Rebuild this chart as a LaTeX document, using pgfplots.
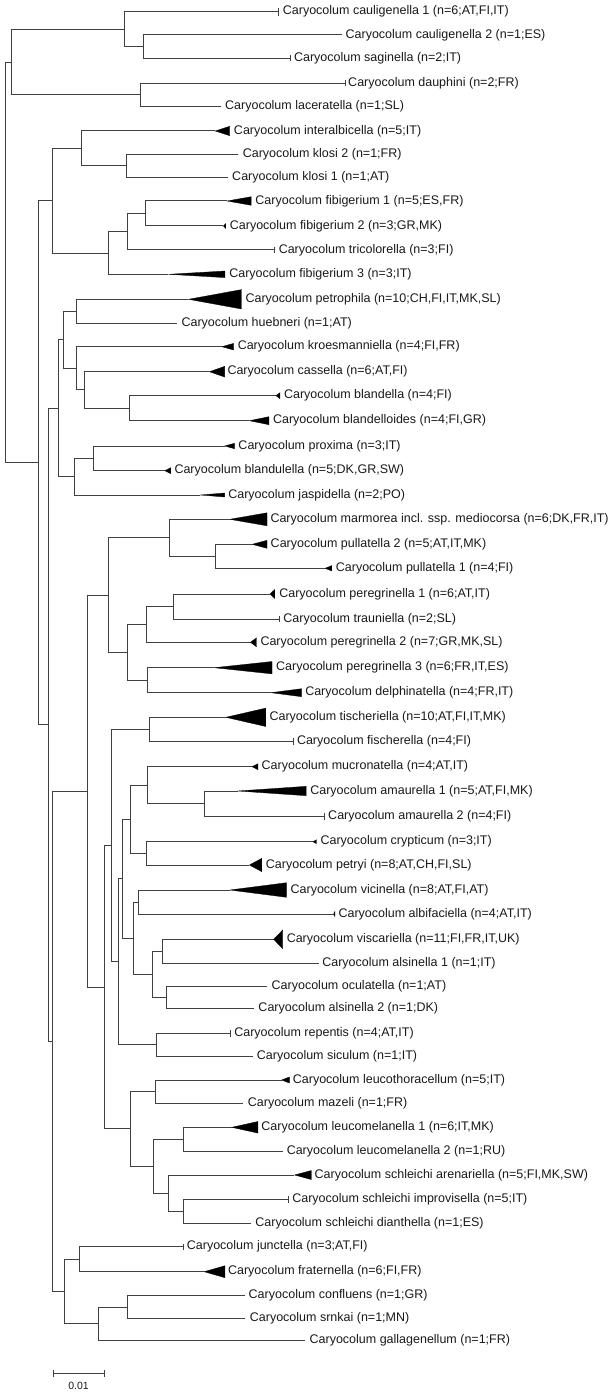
\documentclass[border=0pt]{standalone}
\usepackage{fontspec}
\setmainfont{Liberation Sans}
\usepackage{pgfplots}
\pgfplotsset{compat=1.18}
\tikzset{
  lab/.style={anchor=west, inner sep=0pt, text=black!90, font=\fontsize{12.5bp}{14bp}\selectfont},
  br/.style={black!75, line width=1bp},
  tk/.style={black!75, line width=1bp},
  tri/.style={fill=black, draw=black, line width=0.3bp},
}
\begin{document}
\begin{tikzpicture}
\begin{axis}[
  scale only axis, width=616bp, height=1394bp,
  xmin=0, xmax=523, ymin=0, ymax=1394, y dir=reverse,
  hide axis, clip=false,
]
% ---- branches (one polyline per internal node) ----
\addplot[br] coordinates {(10,62.09) (5,62.09) (5,462.75) (32.3,462.75)};
\addplot[br] coordinates {(106,29.18) (10,29.18) (10,95) (119,95)};
\addplot[br] coordinates {(236.7,11.7) (106,11.7) (106,46.65) (122,46.65)};
\addplot[br] coordinates {(290,35) (122,35) (122,58.3) (246.7,58.3)};
\addplot[br] coordinates {(293,83.3) (119,83.3) (119,106.7) (187.3,106.7)};
\addplot[br] coordinates {(44.3,200.7) (32.3,200.7) (32.3,724.8) (41,724.8)};
\addplot[br] coordinates {(69,148.4) (44.3,148.4) (44.3,253.03) (91.7,253.03)};
\addplot[br] coordinates {(182.7,131) (69,131) (69,165.8) (107.3,165.8)};
\addplot[br] coordinates {(202.3,154.3) (107.3,154.3) (107.3,177.3) (193.3,177.3)};
\addplot[br] coordinates {(108.3,231.75) (91.7,231.75) (91.7,274.3) (143,274.3)};
\addplot[br] coordinates {(123.3,213.5) (108.3,213.5) (108.3,250) (233.3,250)};
\addplot[br] coordinates {(192.7,201) (123.3,201) (123.3,226) (189.7,226)};
\addplot[br] coordinates {(49.3,408.25) (41,408.25) (41,1041.3) (44.3,1041.3)};
\addplot[br] coordinates {(54.3,339.8) (49.3,339.8) (49.3,476.7) (63.3,476.7)};
\addplot[br] coordinates {(65,311.3) (54.3,311.3) (54.3,368.3) (65,368.3)};
\addplot[br] coordinates {(160,299.3) (65,299.3) (65,323.3) (150.7,323.3)};
\addplot[br] coordinates {(188.3,346.7) (65,346.7) (65,389.95) (71.7,389.95)};
\addplot[br] coordinates {(177.7,371.7) (71.7,371.7) (71.7,408.2) (110,408.2)};
\addplot[br] coordinates {(234.3,395.7) (110,395.7) (110,420.7) (211.7,420.7)};
\addplot[br] coordinates {(79,458.35) (63.3,458.35) (63.3,495) (170,495)};
\addplot[br] coordinates {(190.7,446) (79,446) (79,470.7) (140,470.7)};
\addplot[br] coordinates {(74,791.15) (44.3,791.15) (44.3,1291.5) (55,1291.5)};
\addplot[br] coordinates {(91.7,595.05) (74,595.05) (74,987.25) (88.3,987.25)};
\addplot[br] coordinates {(144.3,537.8) (91.7,537.8) (91.7,652.3) (108.3,652.3)};
\addplot[br] coordinates {(195,519.3) (144.3,519.3) (144.3,556.3) (182.7,556.3)};
\addplot[br] coordinates {(214,544.3) (182.7,544.3) (182.7,568.3) (276,568.3)};
\addplot[br] coordinates {(124,624.4) (108.3,624.4) (108.3,680.2) (125,680.2)};
\addplot[br] coordinates {(147.3,606.5) (124,606.5) (124,642.3) (212.7,642.3)};
\addplot[br] coordinates {(229.3,594) (147.3,594) (147.3,619) (237.5,619)};
\addplot[br] coordinates {(181.7,667.7) (125,667.7) (125,692.7) (230,692.7)};
\addplot[br] coordinates {(95,845.6) (88.3,845.6) (88.3,1128.9) (111,1128.9)};
\addplot[br] coordinates {(126.7,729.5) (95,729.5) (95,961.65) (100.7,961.65)};
\addplot[br] coordinates {(191.7,717.3) (126.7,717.3) (126.7,741.7) (249,741.7)};
\addplot[br] coordinates {(104.3,878.65) (100.7,878.65) (100.7,1044.65) (132.7,1044.65)};
\addplot[br] coordinates {(111,819.2) (104.3,819.2) (104.3,938.1) (113.3,938.1)};
\addplot[br] coordinates {(125,785.1) (111,785.1) (111,853.35) (124.3,853.35)};
\addplot[br] coordinates {(214,766.7) (125,766.7) (125,803.5) (173.3,803.5)};
\addplot[br] coordinates {(201.7,791) (173.3,791) (173.3,816) (275.7,816)};
\addplot[br] coordinates {(265.7,841.7) (124.3,841.7) (124.3,865) (211.7,865)};
\addplot[br] coordinates {(117.7,902) (113.3,902) (113.3,974.2) (129.3,974.2)};
\addplot[br] coordinates {(195,890) (117.7,890) (117.7,914) (283.3,914)};
\addplot[br] coordinates {(138.3,951.3) (129.3,951.3) (129.3,997.15) (141,997.15)};
\addplot[br] coordinates {(232.3,939.3) (138.3,939.3) (138.3,963.3) (270.7,963.3)};
\addplot[br] coordinates {(226.7,986) (141,986) (141,1008.3) (216,1008.3)};
\addplot[br] coordinates {(196,1033.3) (132.7,1033.3) (132.7,1056) (215,1056)};
\addplot[br] coordinates {(132.3,1091.65) (111,1091.65) (111,1166.1) (130,1166.1)};
\addplot[br] coordinates {(239,1080) (132.3,1080) (132.3,1103.3) (206.7,1103.3)};
\addplot[br] coordinates {(155.7,1139.15) (130,1139.15) (130,1193.1) (143.3,1193.1)};
\addplot[br] coordinates {(196.7,1127.3) (155.7,1127.3) (155.7,1151) (240,1151)};
\addplot[br] coordinates {(250,1175) (143.3,1175) (143.3,1211.15) (155.7,1211.15)};
\addplot[br] coordinates {(245,1199) (155.7,1199) (155.7,1223.3) (213.3,1223.3)};
\addplot[br] coordinates {(67.3,1259.2) (55,1259.2) (55,1323.85) (83.3,1323.85)};
\addplot[br] coordinates {(155.7,1246.7) (67.3,1246.7) (67.3,1271.7) (173.3,1271.7)};
\addplot[br] coordinates {(108.3,1307) (83.3,1307) (83.3,1340.7) (259.3,1340.7)};
\addplot[br] coordinates {(207.7,1295.7) (108.3,1295.7) (108.3,1318.3) (208.3,1318.3)};
% ---- collapsed clades with zero depth (ticks) ----
\addplot[tk] coordinates {(236.7,7.7) (236.7,15.7)};
\addplot[tk] coordinates {(246.7,55.3) (246.7,61.3)};
\addplot[tk] coordinates {(293,80.3) (293,86.3)};
\addplot[tk] coordinates {(233.3,247) (233.3,253)};
\addplot[tk] coordinates {(237.5,616) (237.5,622)};
\addplot[tk] coordinates {(249,738.2) (249,745.2)};
\addplot[tk] coordinates {(275.7,812.5) (275.7,819.5)};
\addplot[tk] coordinates {(196,1029.8) (196,1036.8)};
\addplot[tk] coordinates {(245,1195.5) (245,1202.5)};
\addplot[tk] coordinates {(155.7,1243.7) (155.7,1249.7)};
% ---- collapsed clades (triangles) ----
\addplot[tri] coordinates {(182.7,131) (195,126.3) (195,135.7) (182.7,131)};
\addplot[tri] coordinates {(192.7,201) (213.3,196.7) (213.3,205.3) (192.7,201)};
\addplot[tri] coordinates {(189.7,226) (191.7,223.5) (191.7,228.5) (189.7,226)};
\addplot[tri] coordinates {(143,274.3) (191,271) (191,277.6) (143,274.3)};
\addplot[tri] coordinates {(160,299.3) (205,289.6) (205,309) (160,299.3)};
\addplot[tri] coordinates {(188.3,346.7) (198.3,343.4) (198.3,350) (188.3,346.7)};
\addplot[tri] coordinates {(177.7,371.7) (190.7,366.4) (190.7,377) (177.7,371.7)};
\addplot[tri] coordinates {(234.3,395.7) (237.7,392.7) (237.7,398.7) (234.3,395.7)};
\addplot[tri] coordinates {(211.7,420.7) (228.3,416.7) (228.3,424.7) (211.7,420.7)};
\addplot[tri] coordinates {(190.7,446) (199,443.3) (199,448.7) (190.7,446)};
\addplot[tri] coordinates {(140,470.7) (145,467.7) (145,473.7) (140,470.7)};
\addplot[tri] coordinates {(170,495) (190.7,493) (190.7,497) (170,495)};
\addplot[tri] coordinates {(195,519.3) (226.7,512.8) (226.7,525.8) (195,519.3)};
\addplot[tri] coordinates {(214,544.3) (226.7,540.3) (226.7,548.3) (214,544.3)};
\addplot[tri] coordinates {(276,568.3) (281.7,565.6) (281.7,571) (276,568.3)};
\addplot[tri] coordinates {(229.3,594) (233.3,589.5) (233.3,598.5) (229.3,594)};
\addplot[tri] coordinates {(212.7,642.3) (217.7,637.8) (217.7,646.8) (212.7,642.3)};
\addplot[tri] coordinates {(181.7,667.7) (231,661.5) (231,673.9) (181.7,667.7)};
\addplot[tri] coordinates {(230,692.7) (256,688.7) (256,696.7) (230,692.7)};
\addplot[tri] coordinates {(191.7,717.3) (225.7,708.1) (225.7,726.5) (191.7,717.3)};
\addplot[tri] coordinates {(214,766.7) (219,763.7) (219,769.7) (214,766.7)};
\addplot[tri] coordinates {(201.7,791) (260,786.3) (260,795.7) (201.7,791)};
\addplot[tri] coordinates {(265.7,841.7) (268.7,839.7) (268.7,843.7) (265.7,841.7)};
\addplot[tri] coordinates {(211.7,865) (222.3,858.3) (222.3,871.7) (211.7,865)};
\addplot[tri] coordinates {(195,890) (243.3,882.7) (243.3,897.3) (195,890)};
\addplot[tri] coordinates {(283.3,914) (284.3,911.5) (284.3,916.5) (283.3,914)};
\addplot[tri] coordinates {(232.3,939.3) (240,930) (240,948.6) (232.3,939.3)};
\addplot[tri] coordinates {(239,1080) (245.7,1077) (245.7,1083) (239,1080)};
\addplot[tri] coordinates {(196.7,1127.3) (219,1121.5) (219,1133.1) (196.7,1127.3)};
\addplot[tri] coordinates {(250,1175) (264.3,1170.5) (264.3,1179.5) (250,1175)};
\addplot[tri] coordinates {(173.3,1271.7) (191,1265.7) (191,1277.7) (173.3,1271.7)};
% ---- scale bar ----
\addplot[br] coordinates {(45,1370) (45,1376.6)};
\addplot[br] coordinates {(45,1373.3) (88.3,1373.3)};
\addplot[br] coordinates {(88.3,1370) (88.3,1376.6)};
\node[anchor=center, inner sep=0pt, text=black!90, font=\fontsize{10.5bp}{12bp}\selectfont] at (axis cs:66.7,1385.5) {0.01};
% ---- tip labels ----
\node[lab] at (axis cs:240,11.7) {Caryocolum cauligenella 1 (n=6;AT,FI,IT)};
\node[lab] at (axis cs:293.3,35) {Caryocolum cauligenella 2 (n=1;ES)};
\node[lab] at (axis cs:249.5,58.3) {Caryocolum saginella (n=2;IT)};
\node[lab] at (axis cs:295.5,83.3) {Caryocolum dauphini (n=2;FR)};
\node[lab] at (axis cs:191,106.7) {Caryocolum laceratella (n=1;SL)};
\node[lab] at (axis cs:198.5,131) {Caryocolum interalbicella (n=5;IT)};
\node[lab] at (axis cs:206,154.3) {Caryocolum klosi 2 (n=1;FR)};
\node[lab] at (axis cs:197,177.3) {Caryocolum klosi 1 (n=1;AT)};
\node[lab] at (axis cs:216.7,201) {Caryocolum fibigerium 1 (n=5;ES,FR)};
\node[lab] at (axis cs:195,226) {Caryocolum fibigerium 2 (n=3;GR,MK)};
\node[lab] at (axis cs:236.5,250) {Caryocolum tricolorella (n=3;FI)};
\node[lab] at (axis cs:194.5,274.3) {Caryocolum fibigerium 3 (n=3;IT)};
\node[lab] at (axis cs:208.3,299.3) {Caryocolum petrophila (n=10;CH,FI,IT,MK,SL)};
\node[lab] at (axis cs:154,323.3) {Caryocolum huebneri (n=1;AT)};
\node[lab] at (axis cs:201.7,346.7) {Caryocolum kroesmanniella (n=4;FI,FR)};
\node[lab] at (axis cs:193,371.7) {Caryocolum cassella (n=6;AT,FI)};
\node[lab] at (axis cs:241,395.7) {Caryocolum blandella (n=4;FI)};
\node[lab] at (axis cs:231.7,420.7) {Caryocolum blandelloides (n=4;FI,GR)};
\node[lab] at (axis cs:202.3,446) {Caryocolum proxima (n=3;IT)};
\node[lab] at (axis cs:148,470.7) {Caryocolum blandulella (n=5;DK,GR,SW)};
\node[lab] at (axis cs:193.7,495) {Caryocolum jaspidella (n=2;PO)};
\node[lab] at (axis cs:229.5,519.3) {Caryocolum marmorea incl. ssp. mediocorsa (n=6;DK,FR,IT)};
\node[lab] at (axis cs:229.7,544.3) {Caryocolum pullatella 2 (n=5;AT,IT,MK)};
\node[lab] at (axis cs:285,568.3) {Caryocolum pullatella 1 (n=4;FI)};
\node[lab] at (axis cs:237,594) {Caryocolum peregrinella 1 (n=6;AT,IT)};
\node[lab] at (axis cs:240.5,619) {Caryocolum trauniella (n=2;SL)};
\node[lab] at (axis cs:221,642.3) {Caryocolum peregrinella 2 (n=7;GR,MK,SL)};
\node[lab] at (axis cs:234.3,667.7) {Caryocolum peregrinella 3 (n=6;FR,IT,ES)};
\node[lab] at (axis cs:259,692.7) {Caryocolum delphinatella (n=4;FR,IT)};
\node[lab] at (axis cs:228.7,717.3) {Caryocolum tischeriella (n=10;AT,FI,IT,MK)};
\node[lab] at (axis cs:252,741.7) {Caryocolum fischerella (n=4;FI)};
\node[lab] at (axis cs:222,766.7) {Caryocolum mucronatella (n=4;AT,IT)};
\node[lab] at (axis cs:263.3,791) {Caryocolum amaurella 1 (n=5;AT,FI,MK)};
\node[lab] at (axis cs:278.5,816) {Caryocolum amaurella 2 (n=4;FI)};
\node[lab] at (axis cs:272,841.7) {Caryocolum crypticum (n=3;IT)};
\node[lab] at (axis cs:225.6,865) {Caryocolum petryi (n=8;AT,CH,FI,SL)};
\node[lab] at (axis cs:246.6,890) {Caryocolum vicinella (n=8;AT,FI,AT)};
\node[lab] at (axis cs:287.3,914) {Caryocolum albifaciella (n=4;AT,IT)};
\node[lab] at (axis cs:243.3,939.3) {Caryocolum viscariella (n=11;FI,FR,IT,UK)};
\node[lab] at (axis cs:273.5,963.3) {Caryocolum alsinella 1 (n=1;IT)};
\node[lab] at (axis cs:230.5,986) {Caryocolum oculatella (n=1;AT)};
\node[lab] at (axis cs:219.3,1008.3) {Caryocolum alsinella 2 (n=1;DK)};
\node[lab] at (axis cs:198.8,1033.3) {Caryocolum repentis (n=4;AT,IT)};
\node[lab] at (axis cs:218,1056) {Caryocolum siculum (n=1;IT)};
\node[lab] at (axis cs:248.5,1080) {Caryocolum leucothoracellum (n=5;IT)};
\node[lab] at (axis cs:210.3,1103.3) {Caryocolum mazeli (n=1;FR)};
\node[lab] at (axis cs:221.8,1127.3) {Caryocolum leucomelanella 1 (n=6;IT,MK)};
\node[lab] at (axis cs:243.3,1151) {Caryocolum leucomelanella 2 (n=1;RU)};
\node[lab] at (axis cs:267,1175) {Caryocolum schleichi arenariella (n=5;FI,MK,SW)};
\node[lab] at (axis cs:248,1199) {Caryocolum schleichi improvisella (n=5;IT)};
\node[lab] at (axis cs:216.7,1223.3) {Caryocolum schleichi dianthella (n=1;ES)};
\node[lab] at (axis cs:158.5,1246.7) {Caryocolum junctella (n=3;AT,FI)};
\node[lab] at (axis cs:193.5,1271.7) {Caryocolum fraternella (n=6;FI,FR)};
\node[lab] at (axis cs:211,1295.7) {Caryocolum confluens (n=1;GR)};
\node[lab] at (axis cs:212,1318.3) {Caryocolum srnkai (n=1;MN)};
\node[lab] at (axis cs:262.7,1340.7) {Caryocolum gallagenellum (n=1;FR)};
\end{axis}
\pgfresetboundingbox
\path[use as bounding box] (0,0) rectangle (616bp,1394bp);
\end{tikzpicture}
\end{document}
